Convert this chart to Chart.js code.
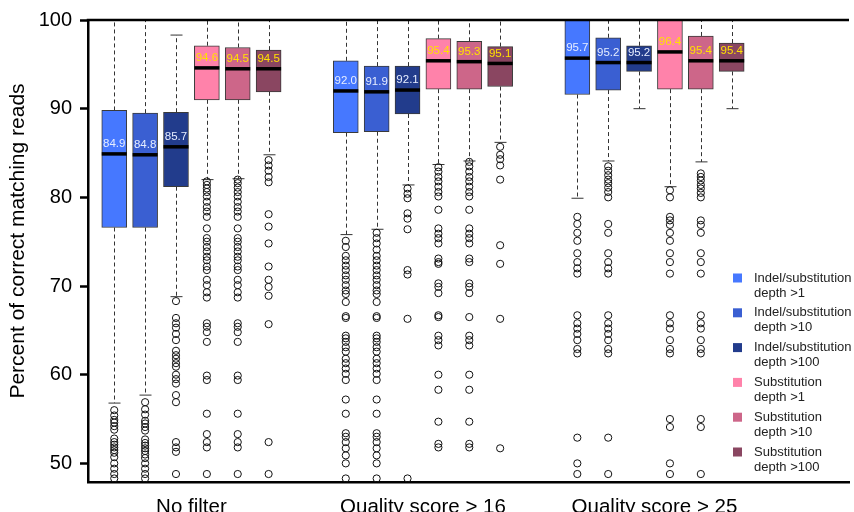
<!DOCTYPE html>
<html>
<head>
<meta charset="utf-8">
<title>Percent of correct matching reads</title>
<script src="https://cdn.jsdelivr.net/npm/chart.js@4.4.0/dist/chart.umd.min.js"></script>
<style>
  html, body { margin: 0; padding: 0; background: #fff; }
  #wrap { width: 854px; height: 512px; }
</style>
</head>
<body>
<div id="wrap"><canvas id="chart" width="854" height="512"></canvas></div>
<script>
// ----------------- Data -----------------
const groups = ["No filter", "Quality score > 16", "Quality score > 25"];
const seriesNames = [
  ["Indel/substitution", "depth >1"],
  ["Indel/substitution", "depth >10"],
  ["Indel/substitution", "depth >100"],
  ["Substitution", "depth >1"],
  ["Substitution", "depth >10"],
  ["Substitution", "depth >100"]
];

// one row per series, one value per group
const medians = [
  [84.9, 92.0, 95.7],
  [84.8, 91.9, 95.2],
  [85.7, 92.1, 95.2],
  [94.6, 95.4, 96.4],
  [94.5, 95.3, 95.4],
  [94.5, 95.1, 95.4]
];
const q1 = [
  [76.6, 87.3, 91.6],
  [76.6, 87.4, 92.1],
  [81.2, 89.4, 94.2],
  [91.0, 92.2, 92.2],
  [91.0, 92.2, 92.2],
  [91.9, 92.5, 94.2]
];
const q3 = [
  [89.8, 95.4, 100],
  [89.5, 94.8, 98.0],
  [89.6, 94.8, 97.1],
  [97.1, 97.9, 100],
  [96.9, 97.6, 98.2],
  [96.6, 97.0, 97.4]
];
const whiskerHigh = [
  [100, 100, 100],
  [100, 100, 100],
  [98.3, 100, 100],
  [100, 100, 100],
  [100, 100, 100],
  [100, 100, 100]
];
const whiskerLow = [
  [56.8, 75.8, 79.9],
  [57.7, 76.4, 84.1],
  [68.8, 81.4, 90.0],
  [82.0, 83.7, 81.2],
  [82.1, 84.1, 84.0],
  [84.8, 86.2, 90.0]
];

const outliersIndel1 = [
  [56.0, 55.4, 54.9, 54.6, 54.2, 53.8, 52.8, 52.4, 52.1, 51.8, 51.5, 51.2, 50.7, 50.0, 49.4, 48.8, 48.3],
  [75.1, 74.4, 73.4, 72.9, 72.3, 71.8, 71.2, 70.7, 70.1, 69.5, 69.1, 68.2, 66.6, 66.4, 64.4, 64.1, 63.7, 63.1, 62.6, 61.8, 61.3, 60.7, 60.1, 59.4, 57.2, 55.6, 53.4, 53.0, 52.4, 51.7, 50.9, 50.0, 48.3],
  [77.8, 77.0, 76.0, 75.1, 73.7, 72.7, 72.0, 71.4, 66.7, 65.8, 65.2, 64.6, 63.9, 62.9, 62.4, 52.9, 50.0, 48.8]
];
const outliersIndel10 = [
  [56.9, 56.1, 55.5, 54.8, 54.5, 54.1, 53.7, 52.7, 52.3, 52.0, 51.7, 51.4, 51.0, 50.6, 50.0, 49.4, 48.8, 48.3],
  [76.0, 75.4, 74.8, 74.1, 73.4, 72.9, 72.3, 71.8, 71.2, 70.7, 70.1, 69.5, 69.1, 68.2, 66.6, 66.4, 64.4, 64.1, 63.7, 63.1, 62.6, 61.8, 61.3, 60.7, 60.1, 59.4, 57.2, 55.6, 53.4, 53.0, 52.4, 51.7, 50.9, 50.0, 48.3],
  [83.5, 83.0, 82.5, 82.0, 81.6, 81.1, 80.6, 80.0, 77.0, 76.0, 73.7, 72.7, 72.0, 71.4, 66.7, 65.8, 65.2, 64.6, 63.9, 62.9, 62.4, 52.9, 48.8]
];
const outliersIndel100 = [
  [68.3, 66.4, 65.8, 65.3, 64.6, 63.9, 62.7, 62.2, 61.8, 61.3, 60.9, 60.0, 59.5, 59.0, 57.7, 56.9, 52.4, 51.8, 51.3, 48.8],
  [81.0, 80.4, 79.9, 78.2, 77.6, 76.4, 71.8, 71.3, 66.3, 48.3],
  []
];
const outliersSubst1 = [
  [81.8, 81.4, 81.0, 80.6, 80.1, 79.5, 78.9, 78.4, 77.8, 76.5, 75.4, 75.0, 74.4, 73.9, 73.3, 72.9, 72.2, 71.8, 70.7, 70.1, 69.3, 68.7, 65.8, 65.4, 64.8, 63.7, 59.9, 59.4, 55.6, 53.3, 52.4, 51.8, 48.8],
  [83.4, 82.9, 82.3, 81.8, 81.2, 80.6, 80.1, 78.6, 76.5, 75.9, 75.4, 74.8, 73.1, 72.7, 72.5, 70.3, 69.9, 69.2, 66.7, 66.5, 64.4, 63.9, 63.3, 60.0, 58.3, 54.7, 52.2, 51.8],
  [80.8, 80.0, 77.8, 77.4, 76.9, 76.0, 75.1, 73.7, 72.7, 71.4, 66.7, 65.8, 65.2, 63.9, 62.9, 62.4, 55.0, 54.1, 50.0, 48.8]
];
const outliersSubst10 = [
  [82.0, 81.6, 81.1, 80.6, 80.1, 79.5, 78.9, 78.4, 77.8, 76.5, 75.4, 75.0, 74.4, 73.9, 73.3, 72.9, 72.2, 71.8, 70.7, 70.1, 69.3, 68.7, 65.8, 65.4, 64.8, 63.7, 59.9, 59.4, 55.6, 53.3, 52.4, 51.8, 48.8],
  [84.0, 83.5, 82.9, 82.3, 81.8, 81.2, 80.6, 80.1, 78.6, 76.5, 75.9, 75.4, 74.8, 73.1, 72.7, 70.3, 69.9, 69.2, 66.5, 64.4, 63.9, 63.3, 60.0, 58.3, 54.7, 52.2, 51.8],
  [82.7, 82.3, 81.9, 81.4, 81.0, 80.5, 80.0, 77.4, 76.9, 76.0, 73.7, 72.7, 71.4, 66.7, 65.8, 65.2, 63.9, 62.9, 62.4, 55.0, 54.1, 48.8]
];
const outliersSubst100 = [
  [84.2, 83.6, 83.0, 82.3, 81.7, 78.1, 76.7, 74.8, 72.2, 70.7, 69.9, 68.9, 65.7, 52.4, 48.8],
  [85.7, 84.8, 84.3, 83.6, 82.0, 74.6, 72.5, 66.3, 51.7],
  []
];
const outliers = [outliersIndel1, outliersIndel10, outliersIndel100, outliersSubst1, outliersSubst10, outliersSubst100];

const yTicks = [50, 60, 70, 80, 90, 100];

// ----------------- Styles -----------------
const FONT = "'Liberation Sans', Arial, Helvetica, sans-serif";
const boxColors = ["#4678ff", "#3a5fd2", "#223c8c", "#ff82aa", "#cd6689", "#8a4661"];
const medianTextColors = ["#e6edff", "#e6edff", "#e6edff", "#ffe100", "#ffe100", "#ffe100"];

// x slot of a box: six boxes per group, groups 7.5 slots apart
const slot = (s, g) => 1 + s + g * 7.5;
const groupCenters = groups.map((_, g) => (slot(0, g) + slot(5, g)) / 2);

Chart.defaults.font.family = FONT;

// ----------------- Plugins -----------------
const whiskerPlugin = {
  id: "whiskers",
  beforeDatasetsDraw(chart) {
    const { ctx, chartArea, scales: { y } } = chart;
    ctx.save();
    ctx.beginPath();
    ctx.rect(chartArea.left, chartArea.top - 2, chartArea.width, chartArea.height + 2);
    ctx.clip();
    ctx.strokeStyle = "#333";
    ctx.lineWidth = 1;
    seriesNames.forEach((_, s) => {
      chart.getDatasetMeta(s).data.forEach((bar, g) => {
        const cx = Math.round(bar.x) + 0.5;
        const yHi = y.getPixelForValue(whiskerHigh[s][g]);
        const yLo = y.getPixelForValue(whiskerLow[s][g]);
        ctx.setLineDash([4, 3]);
        ctx.beginPath();
        ctx.moveTo(cx, y.getPixelForValue(q3[s][g]));
        ctx.lineTo(cx, yHi);
        ctx.moveTo(cx, y.getPixelForValue(q1[s][g]));
        ctx.lineTo(cx, yLo);
        ctx.stroke();
        ctx.setLineDash([]);
        ctx.beginPath();
        ctx.moveTo(cx - 6, yHi);
        ctx.lineTo(cx + 6, yHi);
        ctx.moveTo(cx - 6, yLo);
        ctx.lineTo(cx + 6, yLo);
        ctx.stroke();
      });
    });
    ctx.restore();
  },
  afterDatasetsDraw(chart) {
    const { ctx, scales: { y } } = chart;
    ctx.save();
    ctx.textAlign = "center";
    ctx.textBaseline = "middle";
    ctx.font = "11.5px " + FONT;
    seriesNames.forEach((_, s) => {
      chart.getDatasetMeta(s).data.forEach((bar, g) => {
        const ym = y.getPixelForValue(medians[s][g]);
        ctx.fillStyle = "#000";
        ctx.fillRect(bar.x - bar.width / 2, ym - 1.75, bar.width, 3.5);
        ctx.fillStyle = medianTextColors[s];
        ctx.fillText(medians[s][g].toFixed(1), bar.x, ym - 10);
      });
    });
    ctx.restore();
  }
};

const framePlugin = {
  id: "frame",
  afterDraw(chart) {
    const { ctx, chartArea, scales: { y } } = chart;
    ctx.save();
    // top frame line
    const yt = y.getPixelForValue(100);
    ctx.strokeStyle = "#000";
    ctx.lineWidth = 2.5;
    ctx.beginPath();
    ctx.moveTo(chartArea.left - 1.25, yt);
    ctx.lineTo(chartArea.right, yt);
    ctx.stroke();

    // y axis title
    ctx.fillStyle = "#000";
    ctx.font = "21px " + FONT;
    ctx.textAlign = "center";
    ctx.textBaseline = "middle";
    ctx.translate(18, 241);
    ctx.rotate(-Math.PI / 2);
    ctx.fillText("Percent of correct matching reads", 0, 0);
    ctx.restore();

    // legend
    ctx.save();
    ctx.font = "13px " + FONT;
    ctx.textBaseline = "middle";
    ctx.textAlign = "left";
    seriesNames.forEach((lines, s) => {
      const top = 278 + s * 34.8;
      ctx.fillStyle = boxColors[s];
      ctx.fillRect(733, top - 4.5, 9, 9);
      ctx.fillStyle = "#222";
      ctx.fillText(lines[0], 754, top);
      ctx.fillText(lines[1], 754, top + 15);
    });
    ctx.restore();
  }
};

// ----------------- Datasets -----------------
const boxDatasets = seriesNames.map((name, s) => ({
  type: "bar",
  label: name.join(" "),
  data: groups.map((_, g) => ({ x: slot(s, g), y: [q1[s][g], q3[s][g]] })),
  backgroundColor: boxColors[s],
  borderColor: "#3a3a3a",
  borderWidth: 1,
  borderSkipped: false,
  grouped: false,
  maxBarThickness: 25,
  barPercentage: 1,
  categoryPercentage: 1
}));

const outlierDatasets = seriesNames.map((name, s) => ({
  type: "scatter",
  label: name.join(" ") + " outliers",
  data: outliers[s].flatMap((list, g) => list.map(v => ({ x: slot(s, g), y: v }))),
  pointStyle: "circle",
  pointRadius: 3.6,
  backgroundColor: "rgba(0,0,0,0)",
  borderColor: "#111",
  borderWidth: 1
}));

// ----------------- Chart -----------------
new Chart(document.getElementById("chart"), {
  type: "bar",
  data: { datasets: [...boxDatasets, ...outlierDatasets] },
  options: {
    responsive: false,
    animation: false,
    events: [],
    layout: { padding: { top: 20, right: 0, bottom: 0, left: 0 } },
    plugins: { legend: { display: false }, tooltip: { enabled: false } },
    scales: {
      x: {
        type: "linear",
        min: 0.15,
        max: 24.8,
        offset: false,
        afterBuildTicks: axis => { axis.ticks = groupCenters.map(v => ({ value: v })); },
        afterFit: axis => { axis.height = 30; },
        grid: { display: false, drawTicks: false },
        border: { display: true, color: "#000", width: 2.5 },
        ticks: {
          autoSkip: false,
          maxRotation: 0,
          padding: 13,
          color: "#000",
          font: { size: 20.5 },
          callback: (v, i) => groups[i]
        }
      },
      y: {
        min: 47.9,
        max: 100,
        afterBuildTicks: axis => { axis.ticks = yTicks.map(v => ({ value: v })); },
        afterFit: axis => { axis.width = 88; },
        grid: { drawOnChartArea: false, drawTicks: true, tickLength: 8, tickWidth: 2.5, tickColor: "#000" },
        border: { display: true, color: "#000", width: 2.5 },
        ticks: { color: "#000", padding: 8, font: { size: 20 } }
      }
    }
  },
  plugins: [whiskerPlugin, framePlugin]
});
</script>
</body>
</html>
